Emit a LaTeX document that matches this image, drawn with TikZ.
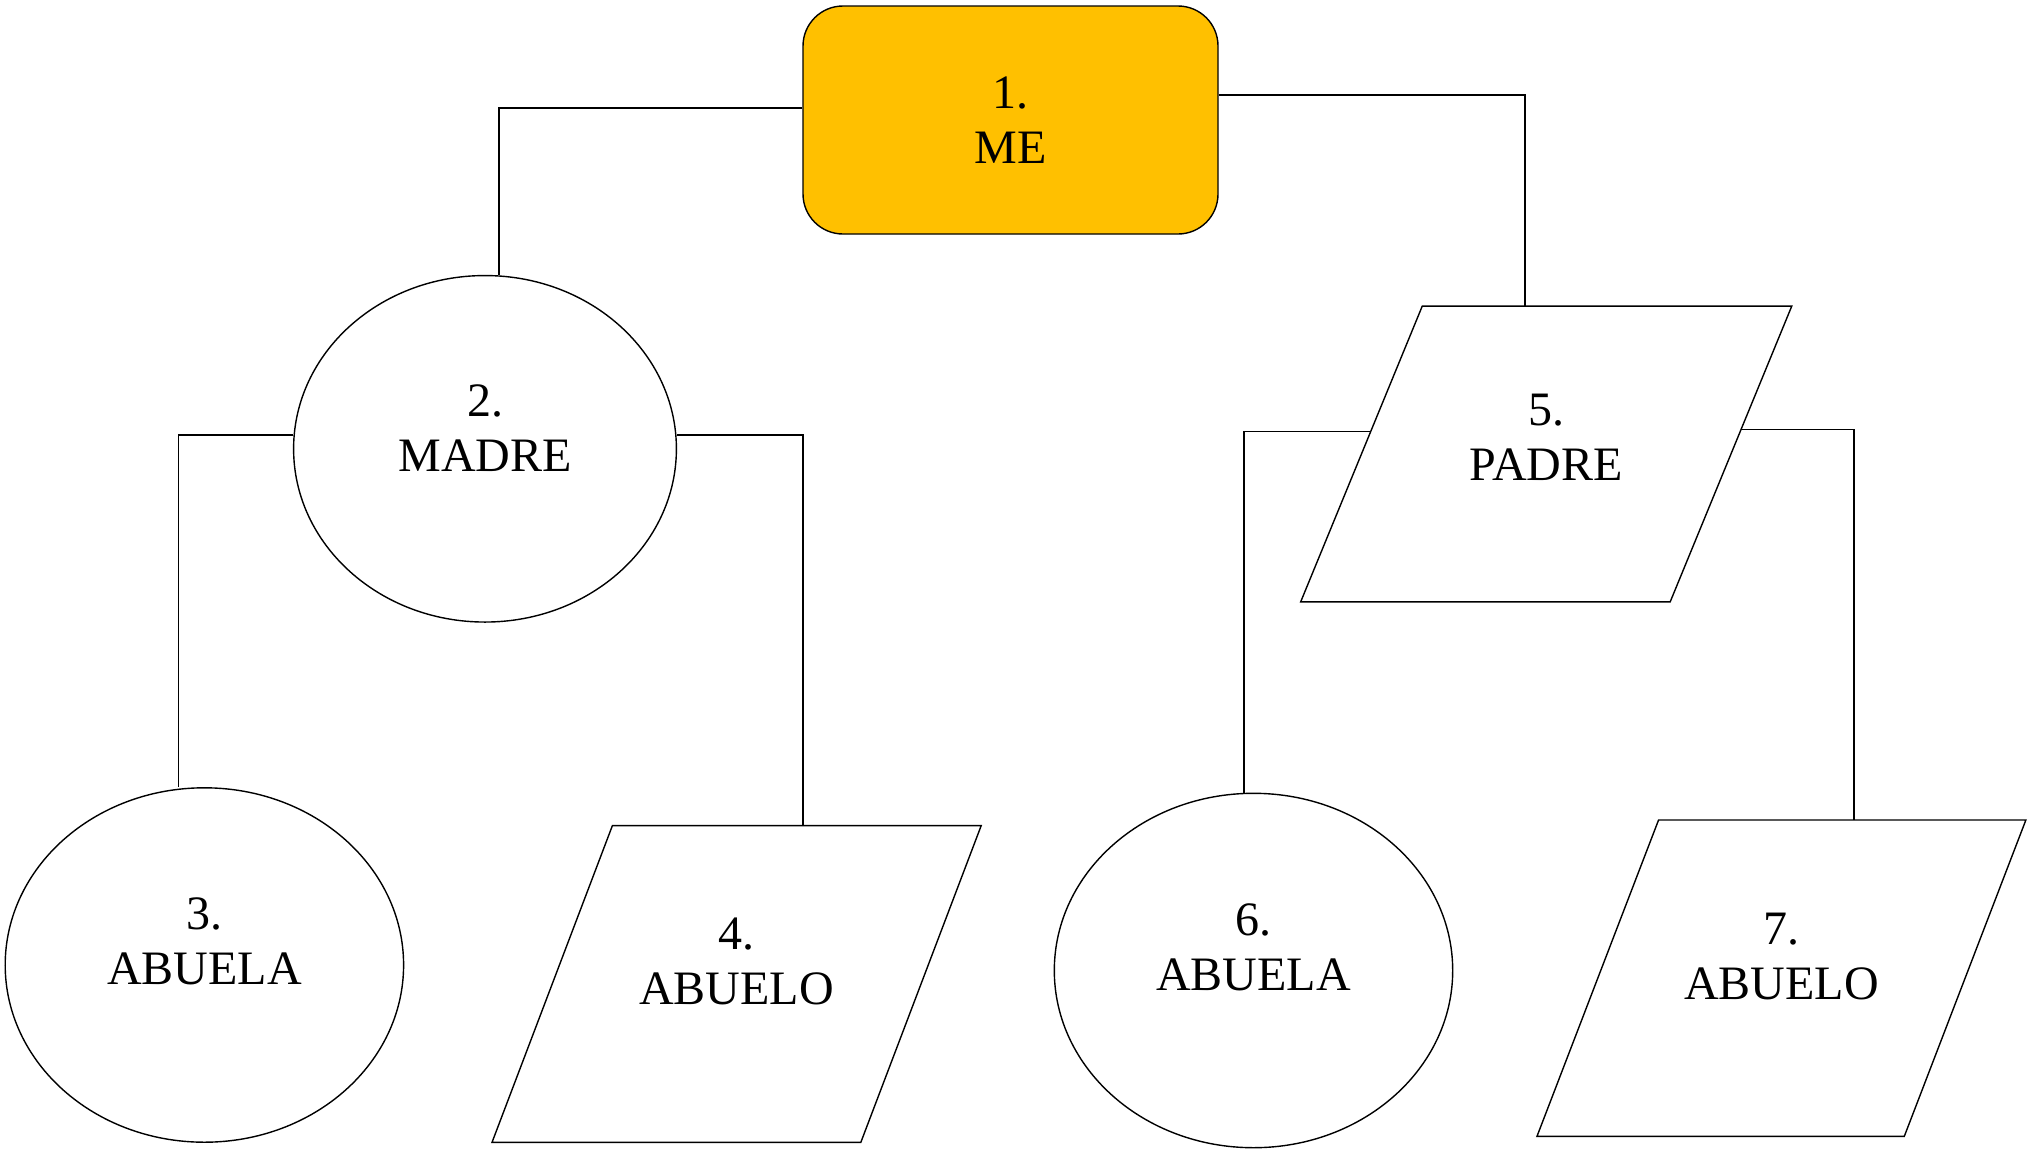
\documentclass[tikz,border=0pt]{standalone}
\usepackage{fontspec}
\setmainfont{Liberation Serif}
\usetikzlibrary{shapes.geometric}
\definecolor{meorange}{HTML}{FFC000}
\newcommand\drawpgram[2]{%
  \draw[shapeline, fill=white] ([xshift=#2]#1.north west) -- ([xshift=#2]#1.north east)
    -- ([xshift=-#2]#1.south east) -- ([xshift=-#2]#1.south west) -- cycle;}
\begin{document}
\begin{tikzpicture}[x=0.5pt,y=-0.5pt,
  shapeline/.style={draw=black, line width=0.7pt},
  txt/.style={font=\fontsize{24}{27.5}\selectfont, align=center, inner sep=0pt},
  oval/.style={shapeline, ellipse, inner sep=0pt, fill=white},
  pbox/.style={rectangle, inner sep=0pt},
  link/.style={draw=black, line width=0.7pt}]
\useasboundingbox (0,0) rectangle (2028,1151);

% nodes
\node[shapeline, fill=meorange, rounded corners=20pt, minimum width=207.5pt, minimum height=114pt, txt] (me) at (1010.5,120) {1.\\ME};
\node[oval, minimum width=191.4pt, minimum height=173.25pt] (madre) at (485,448.8) {};
\node[oval, minimum width=199.2pt, minimum height=177.2pt] (ab3) at (204.4,965) {};
\node[oval, minimum width=199.2pt, minimum height=177.2pt] (ab6) at (1253.5,970.5) {};
\node[pbox, minimum width=184.35pt, minimum height=147.5pt] (padre) at (1546.2,454) {};
\node[pbox, minimum width=184pt, minimum height=158pt] (ab4) at (736.6,984) {};
\node[pbox, minimum width=183.25pt, minimum height=157.8pt] (ab7) at (1781.4,978.2) {};
\drawpgram{padre}{30.4pt}
\drawpgram{ab4}{30.1pt}
\drawpgram{ab7}{30.4pt}

% texts
\node[txt] (t2) at ([yshift=10.5pt]madre.center) {2.\\MADRE};
\node[txt] (t3) at ([yshift=12pt]ab3.center) {3.\\ABUELA};
\node[txt] (t4) at ([yshift=11.5pt]ab4.center) {4.\\ABUELO};
\node[txt] (t5) at ([yshift=8.5pt]padre.center) {5.\\PADRE};
\node[txt] (t6) at ([yshift=11.5pt]ab6.center) {6.\\ABUELA};
\node[txt] (t7) at ([yshift=11pt]ab7.center) {7.\\ABUELO};

% connectors
\draw[link] ([yshift=6pt]me.west) -| ([xshift=7pt]madre.north);
\draw[link] ([yshift=12.5pt]me.east) -| ([xshift=-10.6pt]padre.north);
\draw[link] ([yshift=7pt]madre.west) -| ([xshift=-13pt]ab3.north);
\draw[link] ([yshift=7pt]madre.east) -| ([xshift=33.2pt]ab4.north);
\draw[link] ([xshift=4.6pt,yshift=11.15pt]padre.west) -| ([xshift=-4.75pt]ab6.north);
\draw[link] ([xshift=5.1pt,yshift=12.35pt]padre.east) -| ([xshift=36.2pt]ab7.north);
\end{tikzpicture}
\end{document}
